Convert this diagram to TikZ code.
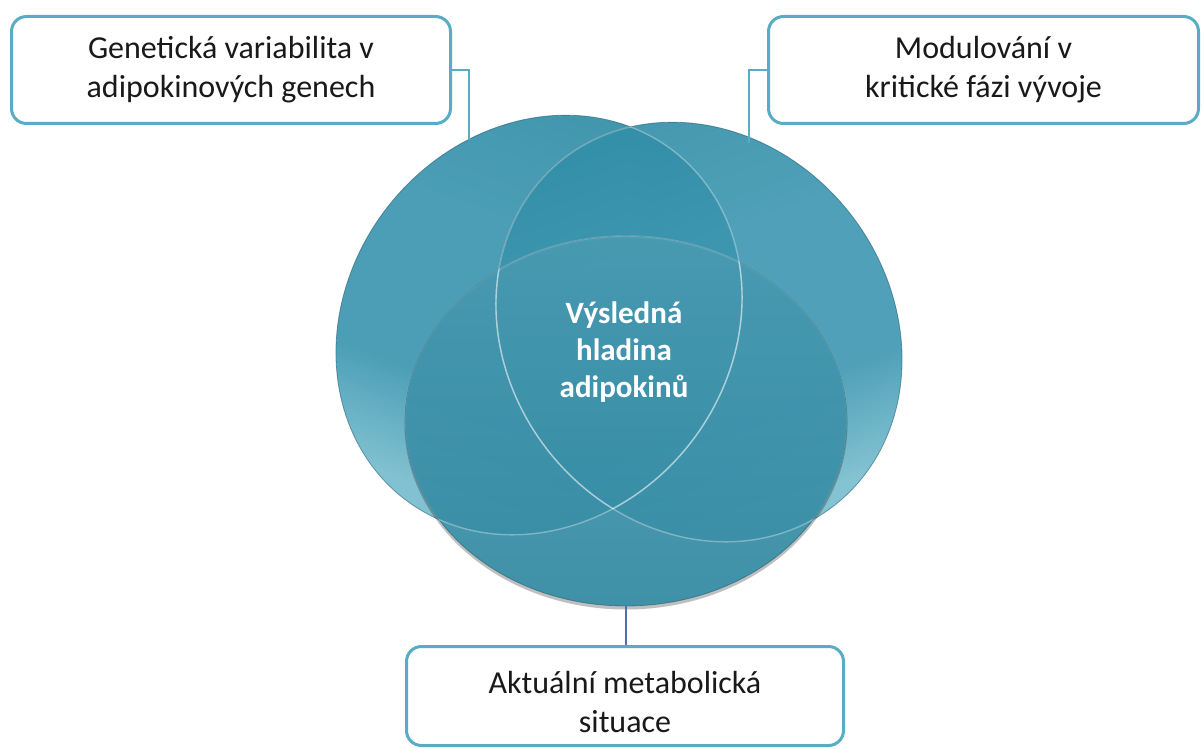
\documentclass[tikz,border=0pt]{standalone}
\usepackage{fontspec}
\setmainfont{Carlito}
\definecolor{boxline}{RGB}{88,172,196}
\definecolor{connteal}{RGB}{88,172,196}
\definecolor{connblue}{RGB}{80,110,180}
\definecolor{tealtop}{RGB}{50,142,168}
\definecolor{tealmid}{RGB}{60,150,176}
\definecolor{teallight}{RGB}{118,188,205}
\definecolor{tealbot}{RGB}{50,140,166}
\definecolor{tealedge}{RGB}{30,90,108}
\definecolor{txt}{RGB}{25,25,25}
\pgfdeclareverticalshading{vennside}{100bp}{color(0bp)=(teallight); color(27bp)=(teallight);
  color(40bp)=(tealmid); color(60bp)=(tealmid); color(75bp)=(tealtop); color(100bp)=(tealtop)}
\tikzset{
  infobox/.style={draw=boxline, line width=3pt, rounded corners=15pt, fill=white, inner sep=0pt},
  boxtext/.style={align=center, font=\fontsize{32}{39}\selectfont, text=txt, inner sep=0pt},
  conn/.style={draw=connteal, line width=1.6pt},
  connb/.style={draw=connblue, line width=1.3pt},
  hl/.style={draw=white, draw opacity=0.35, line width=1.4pt},
  edgeline/.style={draw=tealedge, draw opacity=0.55, line width=0.8pt},
  ellL/.style={insert path={plot[domain=0:360,samples=181,variable=\t]
    ({539+135.45*cos(\t)+151.30*sin(\t)},{325-173.36*cos(\t)+118.21*sin(\t)}) -- cycle}},
  ellR/.style={insert path={plot[domain=0:360,samples=181,variable=\t]
    ({699-135.45*cos(\t)-151.30*sin(\t)},{332-173.36*cos(\t)+118.21*sin(\t)}) -- cycle}},
  ellB/.style={insert path={(626,421) ellipse [x radius=221pt, y radius=185pt]}},
}
\begin{document}
\begin{tikzpicture}[x=1pt,y=-1pt]
\useasboundingbox (0,0) rectangle (1204,749);
% fills
\shade[shading=vennside, shading angle=-20, fill opacity=0.92, ellL];
\draw[edgeline, ellL];
\shade[shading=vennside, shading angle=20, fill opacity=0.9, ellR];
\draw[edgeline, ellR];
\fill[black, opacity=0.25] (626,424) ellipse [x radius=221.5pt, y radius=185.5pt];
\shade[top color=tealmid!92!white, bottom color=tealbot, fill opacity=0.9, ellB];
\draw[edgeline, ellB];
% inner highlight arcs
\begin{scope}\clip[ellR]; \draw[hl, ellL]; \end{scope}
\begin{scope}\clip[ellB]; \draw[hl, ellL]; \end{scope}
\begin{scope}\clip[ellL]; \draw[hl, ellR]; \end{scope}
\begin{scope}\clip[ellB]; \draw[hl, ellR]; \end{scope}
\begin{scope}\clip[ellL]; \draw[hl, draw opacity=0.15, ellB]; \end{scope}
\begin{scope}\clip[ellR]; \draw[hl, draw opacity=0.15, ellB]; \end{scope}
% centre text
\node[font=\bfseries\fontsize{31}{37}\selectfont, text=white, align=center] (centre) at (624,352)
  {Výsledná\\hladina\\adipokinů};
% boxes
\node[infobox, minimum width=439pt, minimum height=107pt] (b1) at (231,70) {};
\node[boxtext] (t1) at (b1.center) {Genetická variabilita v\\adipokinových genech};
\node[infobox, minimum width=430pt, minimum height=107pt] (b2) at (983.5,70) {};
\node[boxtext] (t2) at (b2.center) {Modulování v\\kritické fázi vývoje};
\node[infobox, minimum width=437pt, minimum height=99pt] (b3) at (625,696) {};
\node[boxtext] (t3) at (625,702) {Aktuální metabolická\\situace};
% connector ends on the circles
\coordinate (cL) at (469,140);
\coordinate (cR) at (749,143);
\coordinate (cB) at (626,606);
\draw[conn] (b1.east) -| (cL);
\draw[conn] (b2.west) -| (cR);
\draw[connb] (cB) -- (cB |- b3.north);
\end{tikzpicture}
\end{document}
